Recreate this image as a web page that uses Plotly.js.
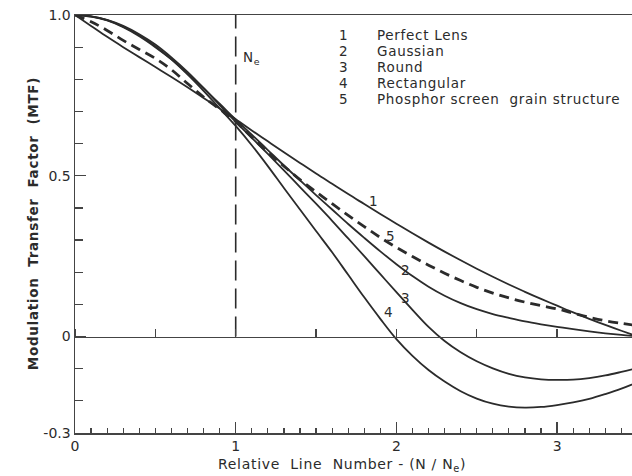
<!DOCTYPE html>
<html>
<head>
<meta charset="utf-8">
<script src="https://cdn.plot.ly/plotly-3.0.1.min.js"></script>
<style>
html,body{margin:0;padding:0;background:#fff;}
#chart{width:632px;height:476px;}
.annotation-text{letter-spacing:0.7px;}
</style>
</head>
<body>
<div id="chart"></div>
<script>
// Relative line number N/Ne (0 .. 3.5 step 0.1)
const lineNumber = [0,0.1,0.2,0.3,0.4,0.5,0.6,0.7,0.8,0.9,1.0,1.1,1.2,1.3,1.4,1.5,1.6,1.7,1.8,1.9,2.0,2.1,2.2,2.3,2.4,2.5,2.6,2.7,2.8,2.9,3.0,3.1,3.2,3.3,3.4,3.5];
// 1 Perfect Lens
const perfectLens = [1.0,0.966,0.932,0.9,0.869,0.838,0.807,0.775,0.742,0.709,0.676,0.641,0.607,0.573,0.54,0.507,0.475,0.443,0.412,0.381,0.351,0.321,0.292,0.264,0.237,0.211,0.186,0.162,0.139,0.117,0.096,0.075,0.055,0.036,0.018,0.0];
// 2 Gaussian
const gaussian = [1.0,0.995,0.983,0.962,0.934,0.9,0.862,0.818,0.772,0.724,0.675,0.628,0.58,0.532,0.486,0.44,0.395,0.35,0.307,0.265,0.225,0.188,0.155,0.127,0.104,0.085,0.07,0.058,0.047,0.038,0.03,0.023,0.016,0.01,0.005,0.001];
// 3 Round
const roundSpot = [1.0,0.996,0.985,0.966,0.94,0.908,0.868,0.823,0.773,0.72,0.668,0.618,0.568,0.517,0.465,0.413,0.36,0.305,0.25,0.194,0.138,0.083,0.03,-0.014,-0.049,-0.077,-0.099,-0.116,-0.127,-0.133,-0.135,-0.134,-0.129,-0.121,-0.11,-0.098];
// 4 Rectangular
const rectangular = [1.0,0.996,0.984,0.964,0.937,0.903,0.862,0.815,0.764,0.71,0.655,0.595,0.53,0.462,0.395,0.328,0.262,0.192,0.122,0.055,-0.008,-0.06,-0.104,-0.14,-0.17,-0.193,-0.209,-0.218,-0.221,-0.219,-0.213,-0.205,-0.194,-0.179,-0.162,-0.142];
// 5 Phosphor screen grain structure (dashed)
const phosphor = [1.0,0.979,0.952,0.921,0.893,0.865,0.83,0.787,0.745,0.707,0.668,0.62,0.573,0.53,0.488,0.45,0.413,0.377,0.342,0.308,0.277,0.249,0.222,0.197,0.174,0.153,0.135,0.12,0.107,0.096,0.086,0.073,0.06,0.049,0.041,0.034];

const legendNumbers = ["1", "2", "3", "4", "5"];
const legendNames = ["Perfect Lens", "Gaussian", "Round", "Rectangular", "Phosphor screen  grain structure"];
const curveLabels = ["1", "5", "2", "3", "4"];
const curveLabelX = [1.855, 1.965, 2.054, 2.054, 1.948];
const curveLabelY = [0.42, 0.312, 0.208, 0.121, 0.075];

const yTickVals = [-0.3, 0, 0.5, 1.0];
const yTickText = ["-0.3", "0", "0.5", "1.0"];
const xTickVals = [0, 1, 2, 3];
const xTickText = ["0", "1", "2", "3"];

const ink = "#2b2b2b";
const font = "DejaVu Sans, Verdana, sans-serif";

function solid(y) {
  return {x: lineNumber, y: y, mode: "lines", type: "scatter",
    line: {color: ink, width: 1.8, shape: "spline", smoothing: 1},
    hoverinfo: "skip", showlegend: false};
}
const traces = [
  solid(perfectLens), solid(gaussian), solid(roundSpot), solid(rectangular),
  {x: lineNumber, y: phosphor, mode: "lines", type: "scatter",
    line: {color: ink, width: 2.8, dash: "10px,6px", shape: "spline", smoothing: 1},
    hoverinfo: "skip", showlegend: false},
  // vertical Ne reference line
  {x: [1, 1], y: [0, 1.0], mode: "lines", type: "scatter",
    line: {color: ink, width: 1.6, dash: "20px,8px"}, hoverinfo: "skip", showlegend: false},
  // invisible trace to activate the zero-line axis
  {x: [0], y: [0], xaxis: "x2", yaxis: "y", mode: "markers", marker: {opacity: 0}, hoverinfo: "skip", showlegend: false}
];

const annotations = [];
const legTop = 35, legStep = 16;
legendNumbers.forEach((n, i) => {
  const yy = 1 - (legTop + i * legStep - 15) / 418;
  annotations.push({xref: "paper", yref: "paper", x: (343 - 75) / 557, y: yy,
    text: n, showarrow: false, xanchor: "center", yanchor: "middle",
    font: {family: font, size: 13.5, color: ink}});
  annotations.push({xref: "paper", yref: "paper", x: (375 - 75) / 557, y: yy,
    text: legendNames[i], showarrow: false, xanchor: "left", yanchor: "middle",
    font: {family: font, size: 13.5, color: ink}});
});
curveLabels.forEach((t, i) => {
  annotations.push({xref: "x", yref: "y", x: curveLabelX[i], y: curveLabelY[i], text: t,
    showarrow: false, xanchor: "center", yanchor: "middle",
    font: {family: font, size: 13.5, color: ink}});
});
annotations.push({xref: "x", yref: "y", x: 1.03, y: 0.866, text: "N<sub>e</sub>", showarrow: false,
  xanchor: "left", yanchor: "middle", font: {family: font, size: 13.5, color: ink}});
annotations.push({xref: "paper", yref: "paper", x: (342 - 75) / 557, y: -0.077, text: "Relative  Line  Number - (N / N<sub>e</sub>)",
  showarrow: false, xanchor: "center", yanchor: "middle", font: {family: font, size: 14, color: ink}});
annotations.push({xref: "paper", yref: "paper", x: -0.075, y: 0.5, text: "<b>Modulation  Transfer  Factor  (MTF)</b>",
  textangle: -90, showarrow: false, xanchor: "center", yanchor: "middle", font: {family: font, size: 13.5, color: ink}});

const layout = {
  width: 632, height: 476,
  margin: {l: 75, r: 0, t: 15, b: 43, pad: 0},
  paper_bgcolor: "#ffffff", plot_bgcolor: "#ffffff",
  showlegend: false,
  xaxis: {range: [0, 557 / 160.7], showgrid: false, zeroline: false,
    showline: true, linecolor: "#444", linewidth: 1.5, mirror: true,
    tickmode: "array", tickvals: xTickVals, ticktext: xTickText,
    ticks: "inside", ticklen: 11, tickwidth: 1.3, tickcolor: "#444",
    minor: {dtick: 0.1, ticks: "inside", ticklen: 5, tickwidth: 1.2, tickcolor: "#444"},
    tickfont: {family: font, size: 14, color: ink}, fixedrange: true},
  xaxis2: {matches: "x", overlaying: "x", anchor: "free", position: 0.3 / 1.3, side: "top",
    showgrid: false, zeroline: false, showline: true, linecolor: "#444", linewidth: 1.5,
    tickmode: "linear", tick0: 0, dtick: 0.5, ticks: "outside", ticklen: 8, tickwidth: 1.3,
    tickcolor: "#444", showticklabels: false},
  yaxis: {range: [-0.3, 1.0], showgrid: false, zeroline: false,
    showline: true, linecolor: "#444", linewidth: 1.5, mirror: false,
    tickmode: "array", tickvals: yTickVals, ticktext: yTickText,
    ticks: "inside", ticklen: 11, tickwidth: 1.3, tickcolor: "#444",
    minor: {dtick: 0.1, tick0: 0, ticks: "inside", ticklen: 8, tickwidth: 1.2, tickcolor: "#444"},
    tickfont: {family: font, size: 14, color: ink}, fixedrange: true},
  annotations: annotations
};

Plotly.newPlot("chart", traces, layout, {displayModeBar: false, staticPlot: true});
</script>
</body>
</html>
